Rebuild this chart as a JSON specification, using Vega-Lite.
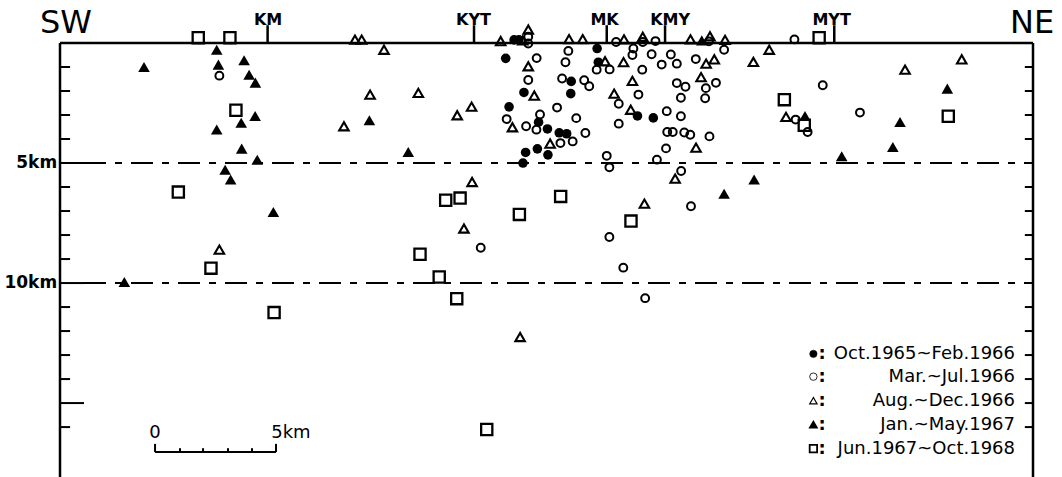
{
"$schema": "https://vega.github.io/schema/vega-lite/v6.json",
"width": 973, "height": 434,
"autosize": {"type": "none"},
"padding": {"left": 60, "top": 43, "right": 29, "bottom": 0},
"background": "white",
"config": {"view": {"stroke": null}, "text": {"font": "DejaVu Sans", "color": "black"}},
"datasets": {
"frame": [
{"x": 0, "x2": 40.54, "y": 0, "y2": 0},
{"x": 0, "x2": 0, "y": 0, "y2": 18.08},
{"x": 40.54, "x2": 40.54, "y": 0, "y2": 18.08},
{"x": 8.65, "x2": 8.65, "y": -0.74, "y2": 0},
{"x": 17.25, "x2": 17.25, "y": -0.74, "y2": 0},
{"x": 22.78, "x2": 22.78, "y": -0.74, "y2": 0},
{"x": 25.21, "x2": 25.21, "y": -0.74, "y2": 0},
{"x": 32.26, "x2": 32.26, "y": -0.74, "y2": 0}
],
"ticks": [
{"x": 0, "x2": 0.42, "y": 1, "y2": 1}, {"x": 0, "x2": 0.42, "y": 2, "y2": 2}, {"x": 0, "x2": 0.42, "y": 3, "y2": 3}, {"x": 0, "x2": 0.42, "y": 4, "y2": 4},
{"x": 0, "x2": 1.0, "y": 5, "y2": 5},
{"x": 0, "x2": 0.42, "y": 6, "y2": 6}, {"x": 0, "x2": 0.42, "y": 7, "y2": 7}, {"x": 0, "x2": 0.42, "y": 8, "y2": 8}, {"x": 0, "x2": 0.42, "y": 9, "y2": 9},
{"x": 0, "x2": 1.0, "y": 10, "y2": 10},
{"x": 0, "x2": 0.42, "y": 11, "y2": 11}, {"x": 0, "x2": 0.42, "y": 12, "y2": 12}, {"x": 0, "x2": 0.42, "y": 13, "y2": 13}, {"x": 0, "x2": 0.42, "y": 14, "y2": 14},
{"x": 0, "x2": 1.0, "y": 15, "y2": 15},
{"x": 0, "x2": 0.42, "y": 16, "y2": 16},
{"x": 40.2, "x2": 40.54, "y": 1, "y2": 1}, {"x": 40.2, "x2": 40.54, "y": 2, "y2": 2}, {"x": 40.2, "x2": 40.54, "y": 3, "y2": 3}, {"x": 40.2, "x2": 40.54, "y": 4, "y2": 4},
{"x": 40.2, "x2": 40.54, "y": 6, "y2": 6}, {"x": 40.2, "x2": 40.54, "y": 7, "y2": 7}, {"x": 40.2, "x2": 40.54, "y": 8, "y2": 8}, {"x": 40.2, "x2": 40.54, "y": 9, "y2": 9},
{"x": 40.2, "x2": 40.54, "y": 11, "y2": 11}, {"x": 40.2, "x2": 40.54, "y": 12, "y2": 12}, {"x": 40.2, "x2": 40.54, "y": 13, "y2": 13}, {"x": 40.2, "x2": 40.54, "y": 14, "y2": 14},
{"x": 40.2, "x2": 40.54, "y": 15, "y2": 15}, {"x": 40.2, "x2": 40.54, "y": 16, "y2": 16},
{"x": 3.96, "x2": 9.0, "y": 17.04, "y2": 17.04},
{"x": 3.96, "x2": 3.96, "y": 16.7, "y2": 17.04},
{"x": 9.0, "x2": 9.0, "y": 16.7, "y2": 17.04},
{"x": 5.0, "x2": 5.0, "y": 16.88, "y2": 17.04},
{"x": 5.96, "x2": 5.96, "y": 16.88, "y2": 17.04},
{"x": 7.0, "x2": 7.0, "y": 16.88, "y2": 17.04},
{"x": 8.0, "x2": 8.0, "y": 16.88, "y2": 17.04}
],
"dash": [
{"x": 1.0, "x2": 40.54, "y": 5, "y2": 5},
{"x": 1.0, "x2": 40.54, "y": 10, "y2": 10}
],
"big": [
{"x": 0.25, "y": -0.4, "label": "SW"},
{"x": 40.5, "y": -0.4, "label": "NE"}
],
"stations": [
{"x": 8.67, "y": -0.75, "label": "KM"},
{"x": 17.23, "y": -0.75, "label": "KYT"},
{"x": 22.69, "y": -0.75, "label": "MK"},
{"x": 25.42, "y": -0.75, "label": "KMY"},
{"x": 32.15, "y": -0.75, "label": "MYT"}
],
"depthlabels": [
{"x": -0.12, "y": 5, "label": "5km"},
{"x": -0.12, "y": 10, "label": "10km"}
],
"scalelabels": [
{"x": 3.96, "y": 16.47, "label": "0", "a": "c"},
{"x": 8.8, "y": 16.47, "label": "5km", "a": "l"}
],
"legend": [
{"x": 31.39, "y": 12.95, "t": "A", "label": "Oct.1965~Feb.1966"},
{"x": 31.39, "y": 13.9, "t": "B", "label": "Mar.~Jul.1966"},
{"x": 31.39, "y": 14.9, "t": "C", "label": "Aug.~Dec.1966"},
{"x": 31.39, "y": 15.9, "t": "D", "label": "Jan.~May.1967"},
{"x": 31.39, "y": 16.9, "t": "E", "label": "Jun.1967~Oct.1968"}
],
"pts": [
{"x": 18.92, "y": -0.13, "t": "A"}, {"x": 19.12, "y": -0.13, "t": "A"}, {"x": 18.57, "y": 0.64, "t": "A"}, {"x": 19.33, "y": 2.06, "t": "A"},
{"x": 18.71, "y": 2.66, "t": "A"}, {"x": 19.94, "y": 3.30, "t": "A"}, {"x": 20.31, "y": 3.58, "t": "A"}, {"x": 20.80, "y": 3.74, "t": "A"},
{"x": 21.11, "y": 3.78, "t": "A"}, {"x": 19.40, "y": 4.56, "t": "A"}, {"x": 19.89, "y": 4.41, "t": "A"}, {"x": 20.33, "y": 4.66, "t": "A"},
{"x": 19.29, "y": 5.0, "t": "A"}, {"x": 21.30, "y": 1.60, "t": "A"}, {"x": 21.28, "y": 2.11, "t": "A"}, {"x": 22.38, "y": 0.23, "t": "A"},
{"x": 22.43, "y": 0.80, "t": "A"}, {"x": 24.06, "y": 3.04, "t": "A"}, {"x": 24.72, "y": 3.12, "t": "A"},

{"x": 6.64, "y": 1.36, "t": "B"}, {"x": 19.51, "y": -0.26, "t": "B"}, {"x": 19.51, "y": 0.02, "t": "B"}, {"x": 19.86, "y": 0.63, "t": "B"},
{"x": 19.51, "y": 1.54, "t": "B"}, {"x": 18.61, "y": 3.17, "t": "B"}, {"x": 19.42, "y": 3.47, "t": "B"}, {"x": 20.0, "y": 2.98, "t": "B"},
{"x": 19.85, "y": 3.61, "t": "B"}, {"x": 20.71, "y": 2.69, "t": "B"}, {"x": 21.51, "y": 3.13, "t": "B"}, {"x": 21.89, "y": 3.75, "t": "B"},
{"x": 21.36, "y": 4.10, "t": "B"}, {"x": 20.85, "y": 4.17, "t": "B"}, {"x": 21.06, "y": 0.80, "t": "B"}, {"x": 21.18, "y": 0.33, "t": "B"},
{"x": 20.92, "y": 1.48, "t": "B"}, {"x": 21.84, "y": 1.55, "t": "B"}, {"x": 22.05, "y": 1.80, "t": "B"}, {"x": 22.36, "y": 1.11, "t": "B"},
{"x": 22.90, "y": 1.10, "t": "B"}, {"x": 23.17, "y": -0.04, "t": "B"}, {"x": 23.89, "y": 0.23, "t": "B"}, {"x": 23.85, "y": 0.50, "t": "B"},
{"x": 24.65, "y": 0.47, "t": "B"}, {"x": 25.45, "y": 0.48, "t": "B"}, {"x": 25.07, "y": 0.90, "t": "B"}, {"x": 25.70, "y": 0.86, "t": "B"},
{"x": 24.26, "y": 1.11, "t": "B"}, {"x": 24.10, "y": 2.15, "t": "B"}, {"x": 23.28, "y": 2.53, "t": "B"}, {"x": 23.28, "y": 3.36, "t": "B"},
{"x": 25.28, "y": 2.84, "t": "B"}, {"x": 25.87, "y": 3.05, "t": "B"}, {"x": 25.70, "y": 1.67, "t": "B"}, {"x": 26.06, "y": 1.82, "t": "B"},
{"x": 25.87, "y": 2.28, "t": "B"}, {"x": 26.49, "y": 0.67, "t": "B"}, {"x": 27.33, "y": 1.66, "t": "B"}, {"x": 26.91, "y": 1.88, "t": "B"},
{"x": 26.88, "y": 2.30, "t": "B"}, {"x": 25.30, "y": 3.71, "t": "B"}, {"x": 25.53, "y": 3.71, "t": "B"}, {"x": 26.01, "y": 3.73, "t": "B"},
{"x": 26.26, "y": 3.82, "t": "B"}, {"x": 27.06, "y": 3.89, "t": "B"}, {"x": 25.25, "y": 4.39, "t": "B"}, {"x": 22.78, "y": 4.70, "t": "B"},
{"x": 22.89, "y": 5.18, "t": "B"}, {"x": 24.87, "y": 4.86, "t": "B"}, {"x": 25.88, "y": 5.33, "t": "B"}, {"x": 24.81, "y": -0.08, "t": "B"},
{"x": 27.04, "y": -0.07, "t": "B"}, {"x": 27.67, "y": 0.28, "t": "B"}, {"x": 30.60, "y": -0.15, "t": "B"}, {"x": 31.78, "y": 1.76, "t": "B"},
{"x": 30.65, "y": 3.19, "t": "B"}, {"x": 31.15, "y": 3.71, "t": "B"}, {"x": 33.33, "y": 2.90, "t": "B"}, {"x": 26.29, "y": 6.80, "t": "B"},
{"x": 22.89, "y": 8.08, "t": "B"}, {"x": 23.47, "y": 9.36, "t": "B"}, {"x": 24.38, "y": 10.63, "t": "B"}, {"x": 17.53, "y": 8.53, "t": "B"},
{"x": 24.28, "y": -0.04, "t": "B"},

{"x": 12.29, "y": -0.14, "t": "C"}, {"x": 12.57, "y": -0.14, "t": "C"}, {"x": 13.5, "y": 0.28, "t": "C"}, {"x": 11.83, "y": 3.47, "t": "C"},
{"x": 12.92, "y": 2.15, "t": "C"}, {"x": 14.93, "y": 2.08, "t": "C"}, {"x": 16.55, "y": 3.01, "t": "C"}, {"x": 17.15, "y": 2.65, "t": "C"},
{"x": 17.17, "y": 5.79, "t": "C"}, {"x": 16.83, "y": 7.73, "t": "C"}, {"x": 19.17, "y": 12.25, "t": "C"}, {"x": 6.64, "y": 8.61, "t": "C"},
{"x": 18.36, "y": -0.08, "t": "C"}, {"x": 19.28, "y": -0.11, "t": "C"}, {"x": 19.51, "y": -0.56, "t": "C"}, {"x": 19.51, "y": 0.97, "t": "C"},
{"x": 19.76, "y": 2.19, "t": "C"}, {"x": 18.85, "y": 3.51, "t": "C"}, {"x": 20.42, "y": 4.19, "t": "C"}, {"x": 21.21, "y": -0.16, "t": "C"},
{"x": 21.78, "y": -0.16, "t": "C"}, {"x": 22.71, "y": 0.76, "t": "C"}, {"x": 23.48, "y": 0.80, "t": "C"}, {"x": 23.5, "y": -0.15, "t": "C"},
{"x": 24.28, "y": -0.26, "t": "C"}, {"x": 23.85, "y": 1.58, "t": "C"}, {"x": 23.09, "y": 2.11, "t": "C"}, {"x": 23.78, "y": 2.78, "t": "C"},
{"x": 26.5, "y": 4.36, "t": "C"}, {"x": 25.63, "y": 5.65, "t": "C"}, {"x": 24.35, "y": 6.69, "t": "C"}, {"x": 26.27, "y": -0.15, "t": "C"},
{"x": 27.08, "y": -0.28, "t": "C"}, {"x": 27.71, "y": -0.13, "t": "C"}, {"x": 26.92, "y": 0.86, "t": "C"}, {"x": 27.26, "y": 0.68, "t": "C"},
{"x": 26.71, "y": 1.42, "t": "C"}, {"x": 28.89, "y": 0.79, "t": "C"}, {"x": 29.55, "y": 0.28, "t": "C"}, {"x": 30.25, "y": 3.08, "t": "C"},
{"x": 35.21, "y": 1.11, "t": "C"}, {"x": 37.57, "y": 0.68, "t": "C"},

{"x": 3.50, "y": 1.00, "t": "D"}, {"x": 6.53, "y": 0.28, "t": "D"}, {"x": 6.60, "y": 0.90, "t": "D"}, {"x": 7.67, "y": 0.72, "t": "D"},
{"x": 7.88, "y": 1.32, "t": "D"}, {"x": 8.14, "y": 1.65, "t": "D"}, {"x": 8.13, "y": 3.04, "t": "D"}, {"x": 7.55, "y": 3.32, "t": "D"},
{"x": 6.53, "y": 3.60, "t": "D"}, {"x": 7.57, "y": 4.40, "t": "D"}, {"x": 8.22, "y": 4.86, "t": "D"}, {"x": 6.88, "y": 5.28, "t": "D"},
{"x": 7.11, "y": 5.69, "t": "D"}, {"x": 8.89, "y": 7.04, "t": "D"}, {"x": 2.68, "y": 9.96, "t": "D"}, {"x": 12.89, "y": 3.22, "t": "D"},
{"x": 14.51, "y": 4.54, "t": "D"}, {"x": 26.74, "y": -0.11, "t": "D"}, {"x": 28.92, "y": 5.69, "t": "D"}, {"x": 27.67, "y": 6.28, "t": "D"},
{"x": 31.04, "y": 3.04, "t": "D"}, {"x": 32.57, "y": 4.72, "t": "D"}, {"x": 34.70, "y": 4.33, "t": "D"}, {"x": 35.0, "y": 3.29, "t": "D"},
{"x": 36.97, "y": 1.90, "t": "D"},

{"x": 5.76, "y": -0.22, "t": "E"}, {"x": 7.08, "y": -0.22, "t": "E"}, {"x": 7.33, "y": 2.80, "t": "E"}, {"x": 4.93, "y": 6.21, "t": "E"},
{"x": 6.29, "y": 9.38, "t": "E"}, {"x": 8.92, "y": 11.23, "t": "E"}, {"x": 16.07, "y": 6.55, "t": "E"}, {"x": 16.67, "y": 6.46, "t": "E"},
{"x": 20.86, "y": 6.39, "t": "E"}, {"x": 19.14, "y": 7.14, "t": "E"}, {"x": 23.79, "y": 7.42, "t": "E"}, {"x": 15.0, "y": 8.80, "t": "E"},
{"x": 15.80, "y": 9.75, "t": "E"}, {"x": 16.53, "y": 10.65, "t": "E"}, {"x": 17.78, "y": 16.10, "t": "E"}, {"x": 31.63, "y": -0.22, "t": "E"},
{"x": 30.18, "y": 2.36, "t": "E"}, {"x": 31.01, "y": 3.43, "t": "E"}, {"x": 37.01, "y": 3.05, "t": "E"}
]
},
"encoding": {
"x": {"field": "x", "type": "quantitative", "scale": {"domain": [0, 40.54], "nice": false, "zero": false}, "axis": null},
"y": {"field": "y", "type": "quantitative", "scale": {"domain": [0, 18.08], "nice": false, "zero": false, "reverse": true}, "axis": null}
},
"layer": [
{"data": {"name": "frame"}, "mark": {"type": "rule", "color": "black", "strokeWidth": 2.5},
 "encoding": {"x2": {"field": "x2"}, "y2": {"field": "y2"}}},
{"data": {"name": "ticks"}, "mark": {"type": "rule", "color": "black", "strokeWidth": 2},
 "encoding": {"x2": {"field": "x2"}, "y2": {"field": "y2"}}},
{"data": {"name": "dash"}, "mark": {"type": "rule", "color": "black", "strokeWidth": 2, "strokeDash": [22, 9, 7, 9]},
 "encoding": {"x2": {"field": "x2"}, "y2": {"field": "y2"}}},
{"data": {"name": "pts"}, "transform": [{"filter": "datum.t === 'A'"}],
 "mark": {"type": "point", "shape": "circle", "filled": true, "color": "black", "opacity": 1, "size": 92}},
{"data": {"name": "pts"}, "transform": [{"filter": "datum.t === 'B'"}],
 "mark": {"type": "point", "shape": "circle", "filled": false, "color": "black", "opacity": 1, "size": 62, "strokeWidth": 2}},
{"data": {"name": "pts"}, "transform": [{"filter": "datum.t === 'C'"}],
 "mark": {"type": "point", "shape": "triangle-up", "filled": false, "color": "black", "opacity": 1, "size": 90, "strokeWidth": 2.1}},
{"data": {"name": "pts"}, "transform": [{"filter": "datum.t === 'D'"}],
 "mark": {"type": "point", "shape": "triangle-up", "filled": true, "color": "black", "opacity": 1, "size": 135}},
{"data": {"name": "pts"}, "transform": [{"filter": "datum.t === 'E'"}],
 "mark": {"type": "point", "shape": "square", "filled": false, "color": "black", "opacity": 1, "size": 125, "strokeWidth": 2.3}},
{"data": {"name": "legend"}, "mark": {"type": "point", "opacity": 1, "stroke": "black", "size": 55},
 "encoding": {
  "shape": {"field": "t", "type": "nominal", "scale": {"domain": ["A", "B", "C", "D", "E"], "range": ["circle", "circle", "triangle-up", "triangle-up", "square"]}, "legend": null},
  "fill": {"field": "t", "type": "nominal", "scale": {"domain": ["A", "B", "C", "D", "E"], "range": ["black", "transparent", "transparent", "black", "transparent"]}, "legend": null},
  "strokeWidth": {"field": "t", "type": "nominal", "scale": {"domain": ["A", "B", "C", "D", "E"], "range": [0.5, 1.8, 1.8, 0.5, 2]}, "legend": null}
 }},
{"data": {"name": "legend"}, "mark": {"type": "text", "text": ":", "align": "left", "baseline": "middle", "fontSize": 18, "fontWeight": "bold", "dx": 5},
 "encoding": {}},
{"data": {"name": "legend"}, "mark": {"type": "text", "align": "right", "baseline": "middle", "fontSize": 18},
 "encoding": {"x": {"datum": 39.79, "type": "quantitative"}, "text": {"field": "label"}}},
{"data": {"name": "big"}, "mark": {"type": "text", "align": "center", "baseline": "alphabetic", "fontSize": 32},
 "encoding": {"text": {"field": "label"}}},
{"data": {"name": "stations"}, "mark": {"type": "text", "align": "center", "baseline": "alphabetic", "fontSize": 16, "fontWeight": "bold"},
 "encoding": {"text": {"field": "label"}}},
{"data": {"name": "depthlabels"}, "mark": {"type": "text", "align": "right", "baseline": "middle", "fontSize": 17, "fontWeight": "bold"},
 "encoding": {"text": {"field": "label"}}},
{"data": {"name": "scalelabels"}, "transform": [{"filter": "datum.a === 'c'"}], "mark": {"type": "text", "align": "center", "baseline": "alphabetic", "fontSize": 18},
 "encoding": {"text": {"field": "label"}}},
{"data": {"name": "scalelabels"}, "transform": [{"filter": "datum.a === 'l'"}], "mark": {"type": "text", "align": "left", "baseline": "alphabetic", "fontSize": 18},
 "encoding": {"text": {"field": "label"}}}
]
}
